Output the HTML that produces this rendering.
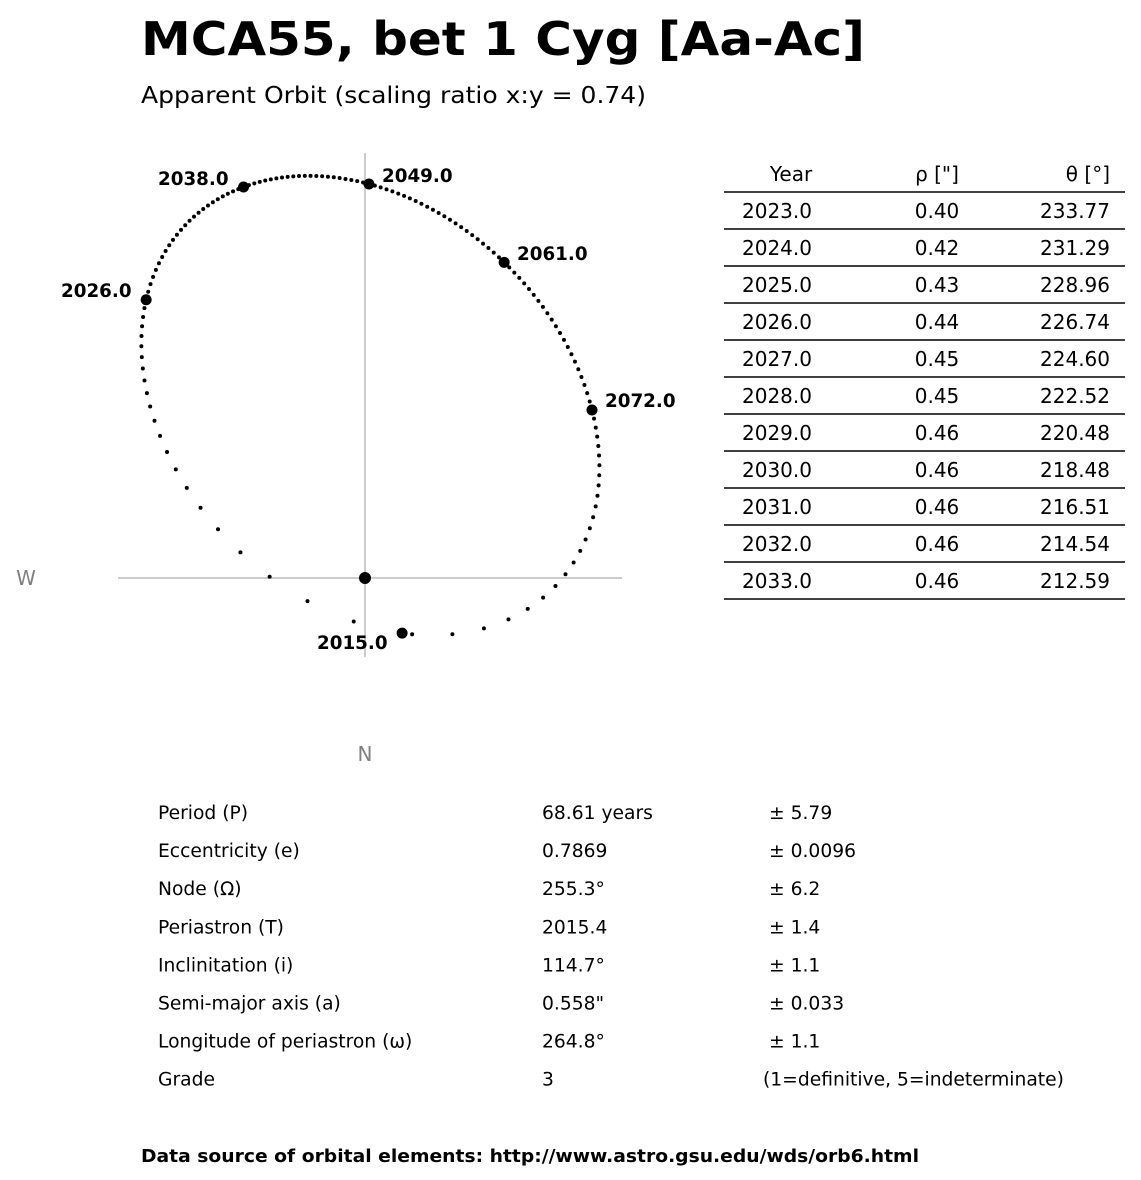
<!DOCTYPE html>
<html><head><meta charset="utf-8"><style>
body{margin:0;background:#fff;width:1141px;height:1180px;overflow:hidden;font-family:"DejaVu Sans","Liberation Sans",sans-serif;}
svg{position:absolute;left:0;top:0}
</style></head><body>
<svg id="s" width="1141" height="1180" xmlns="http://www.w3.org/2000/svg" font-family="DejaVu Sans, Liberation Sans, sans-serif">
<text x="141" y="55" font-size="46" font-weight="bold" textLength="724" lengthAdjust="spacingAndGlyphs">MCA55, bet 1 Cyg [Aa-Ac]</text>
<text x="141" y="103" font-size="23.5" textLength="505" lengthAdjust="spacingAndGlyphs">Apparent Orbit (scaling ratio x:y = 0.74)</text>
<line x1="365" y1="153" x2="365" y2="657" stroke="#999" stroke-width="1"/>
<line x1="118" y1="578" x2="622" y2="578" stroke="#999" stroke-width="1"/>
<text x="26" y="585" font-size="20" fill="#808080" text-anchor="middle">W</text>
<text x="365" y="761" font-size="20" fill="#808080" text-anchor="middle">N</text>
<circle cx="365" cy="578" r="6"/>
<g id="dots"></g>
<g font-size="18.3" font-weight="bold">
<text x="317" y="649">2015.0</text>
<text x="61" y="297">2026.0</text>
<text x="158" y="185">2038.0</text>
<text x="382" y="182">2049.0</text>
<text x="517" y="260">2061.0</text>
<text x="605" y="407">2072.0</text>
</g>
<g id="tbl" font-size="20"></g>
<g id="el" font-size="18.7"></g>
<text x="141" y="1162" font-size="18" font-weight="bold" textLength="778" lengthAdjust="spacingAndGlyphs">Data source of orbital elements: http://www.astro.gsu.edu/wds/orb6.html</text>
</svg>
<script>
var NS="http://www.w3.org/2000/svg";
function el(p,t,a,txt){var e=document.createElementNS(NS,t);for(var k in a)e.setAttribute(k,a[k]);if(txt!==undefined)e.textContent=txt;p.appendChild(e);return e;}
var P=68.61,e=0.7869,Om=255.3*Math.PI/180,T=2015.4,inc=114.7*Math.PI/180,a=0.558,w=264.8*Math.PI/180;
var A=a*(Math.cos(w)*Math.cos(Om)-Math.sin(w)*Math.sin(Om)*Math.cos(inc));
var B=a*(Math.cos(w)*Math.sin(Om)+Math.sin(w)*Math.cos(Om)*Math.cos(inc));
var F=a*(-Math.sin(w)*Math.cos(Om)-Math.cos(w)*Math.sin(Om)*Math.cos(inc));
var G=a*(-Math.sin(w)*Math.sin(Om)+Math.cos(w)*Math.cos(Om)*Math.cos(inc));
function pos(t){var M=2*Math.PI*(t-T)/P;var E=M;for(var i=0;i<50;i++)E=E-(E-e*Math.sin(E)-M)/(1-e*Math.cos(E));
var X=Math.cos(E)-e,Y=Math.sqrt(1-e*e)*Math.sin(E);return [A*X+F*Y,B*X+G*Y];}
var cx=365,cy=578;
var p72=pos(2072),p49=pos(2049);
var sx=(592-cx)/p72[1], sy=(184-cy)/p49[0];
var g=document.getElementById("dots");
for(var t=2015;t<2015+P;t+=0.5){var p=pos(t);var big=[2015,2026,2038,2049,2061,2072].indexOf(t)>=0;
el(g,"circle",{cx:cx+p[1]*sx,cy:cy+p[0]*sy,r:big?5.5:2});}
var rows=[["2023.0","0.40","233.77"],["2024.0","0.42","231.29"],["2025.0","0.43","228.96"],["2026.0","0.44","226.74"],["2027.0","0.45","224.60"],["2028.0","0.45","222.52"],["2029.0","0.46","220.48"],["2030.0","0.46","218.48"],["2031.0","0.46","216.51"],["2032.0","0.46","214.54"],["2033.0","0.46","212.59"]];
var tb=document.getElementById("tbl");
el(tb,"text",{x:791,y:181,"text-anchor":"middle"},"Year");el(tb,"text",{x:937,y:181,"text-anchor":"middle"},'ρ ["]');el(tb,"text",{x:1110,y:181,"text-anchor":"end"},"θ [°]");
el(tb,"line",{x1:724,x2:1125,y1:192,y2:192,stroke:"#000","stroke-width":1.5});
for(var i=0;i<rows.length;i++){var y=218+i*37;
el(tb,"text",{x:777,y:y,"text-anchor":"middle"},rows[i][0]);el(tb,"text",{x:937,y:y,"text-anchor":"middle"},rows[i][1]);el(tb,"text",{x:1110,y:y,"text-anchor":"end"},rows[i][2]);
el(tb,"line",{x1:724,x2:1125,y1:229+i*37,y2:229+i*37,stroke:"#000","stroke-width":1.5});}
var els=[["Period (P)","68.61 years","± 5.79"],["Eccentricity (e)","0.7869","± 0.0096"],["Node (Ω)","255.3°","± 6.2"],["Periastron (T)","2015.4","± 1.4"],["Inclinitation (i)","114.7°","± 1.1"],["Semi-major axis (a)","0.558\"","± 0.033"],["Longitude of periastron (ω)","264.8°","± 1.1"],["Grade","3","(1=definitive, 5=indeterminate)"]];
var eg=document.getElementById("el");
for(var i=0;i<els.length;i++){var y=819+i*38.1;
el(eg,"text",{x:158,y:y},els[i][0]);el(eg,"text",{x:542,y:y},els[i][1]);el(eg,"text",{x:i==7?763:769,y:y},els[i][2]);}
</script>
</body></html>
